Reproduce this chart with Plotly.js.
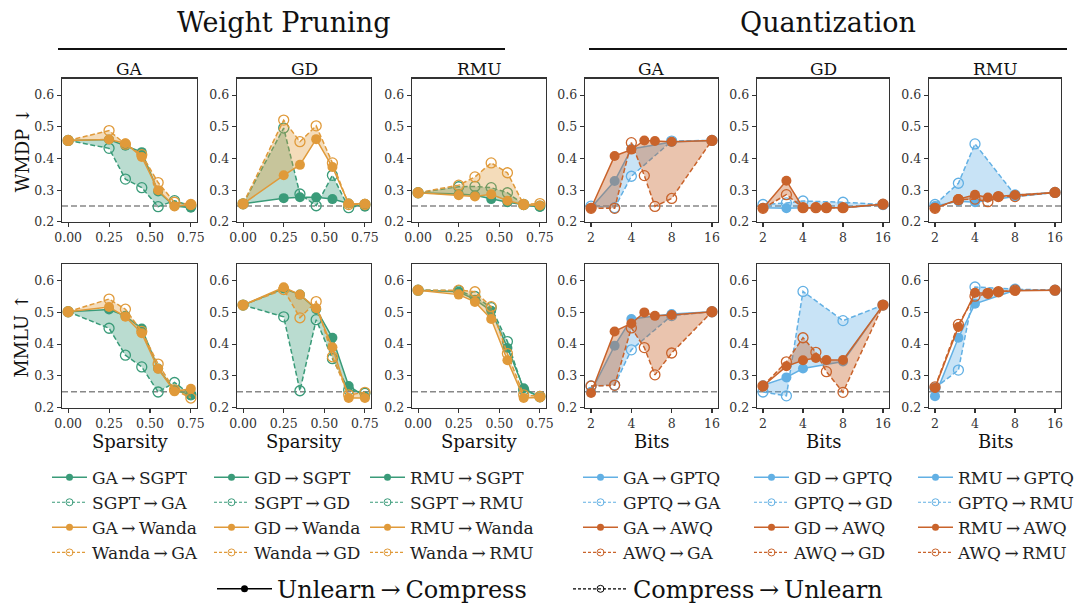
<!DOCTYPE html>
<html><head><meta charset="utf-8">
<script src="https://cdn.plot.ly/plotly-3.0.1.min.js"></script>
<style>html,body{margin:0;padding:0;background:#fff}#chart{width:1082px;height:612px}</style>
</head><body><div id="chart"></div>
<script>
// ---------- data ----------
const sparsity = [0, 0.25, 0.35, 0.45, 0.55, 0.65, 0.75];
const bitsGPTQ = [2, 3, 4, 8, 16];
const bitsAWQ = [2, 3, 4, 5, 6, 8, 16];
const chanceLevel = [0.25];
const yTicks = [0.2, 0.3, 0.4, 0.5, 0.6];
const yTickText = ['0.2', '0.3', '0.4', '0.5', '0.6'];
const sparsityTicks = [0, 0.25, 0.5, 0.75];
const sparsityTickText = ['0.00', '0.25', '0.50', '0.75'];
const bitTicks = [2, 4, 8, 16];
const bitTickText = ['2', '4', '8', '16'];
const unlearnMethods = ['GA', 'GD', 'RMU'];
const metricNames = ['WMDP ↓', 'MMLU ↑'];
const sectionTitles = ['Weight Pruning', 'Quantization'];

// WMDP - weight pruning
const wmdp_GA_SGPT = [0.457, 0.460, 0.440, 0.420, 0.296, 0.250, 0.245];
const wmdp_SGPT_GA = [0.457, 0.432, 0.335, 0.308, 0.248, 0.267, 0.250];
const wmdp_GA_Wanda = [0.457, 0.460, 0.448, 0.405, 0.300, 0.249, 0.255];
const wmdp_Wanda_GA = [0.457, 0.488, 0.445, 0.412, 0.324, 0.262, 0.255];
const wmdp_GD_SGPT = [0.257, 0.275, 0.278, 0.278, 0.272, 0.258, 0.248];
const wmdp_SGPT_GD = [0.257, 0.496, 0.288, 0.251, 0.347, 0.245, 0.255];
const wmdp_GD_Wanda = [0.257, 0.347, 0.380, 0.461, 0.373, 0.258, 0.257];
const wmdp_Wanda_GD = [0.257, 0.521, 0.453, 0.503, 0.386, 0.255, 0.255];
const wmdp_RMU_SGPT = [0.292, 0.288, 0.284, 0.272, 0.262, 0.254, 0.247];
const wmdp_SGPT_RMU = [0.292, 0.311, 0.312, 0.308, 0.292, 0.255, 0.250];
const wmdp_RMU_Wanda = [0.292, 0.284, 0.280, 0.287, 0.267, 0.254, 0.252];
const wmdp_Wanda_RMU = [0.292, 0.316, 0.342, 0.386, 0.355, 0.255, 0.258];
// MMLU - weight pruning
const mmlu_GA_SGPT = [0.502, 0.509, 0.489, 0.449, 0.323, 0.255, 0.240];
const mmlu_SGPT_GA = [0.502, 0.450, 0.365, 0.328, 0.249, 0.279, 0.240];
const mmlu_GA_Wanda = [0.502, 0.517, 0.486, 0.434, 0.322, 0.251, 0.259];
const mmlu_Wanda_GA = [0.502, 0.542, 0.510, 0.440, 0.337, 0.256, 0.230];
const mmlu_GD_SGPT = [0.523, 0.575, 0.556, 0.510, 0.420, 0.268, 0.235];
const mmlu_SGPT_GD = [0.523, 0.486, 0.253, 0.477, 0.354, 0.255, 0.245];
const mmlu_GD_Wanda = [0.523, 0.579, 0.556, 0.513, 0.390, 0.230, 0.230];
const mmlu_Wanda_GD = [0.523, 0.572, 0.483, 0.534, 0.360, 0.240, 0.248];
const mmlu_RMU_SGPT = [0.570, 0.565, 0.540, 0.505, 0.388, 0.261, 0.232];
const mmlu_SGPT_RMU = [0.570, 0.568, 0.550, 0.515, 0.408, 0.255, 0.235];
const mmlu_RMU_Wanda = [0.570, 0.556, 0.533, 0.479, 0.349, 0.230, 0.232];
const mmlu_Wanda_RMU = [0.570, 0.570, 0.565, 0.518, 0.370, 0.240, 0.235];
// WMDP - quantization
const wmdp_GA_GPTQ = [0.245, 0.329, 0.430, 0.452, 0.457];
const wmdp_GPTQ_GA = [0.250, 0.245, 0.344, 0.455, 0.457];
const wmdp_GA_AWQ = [0.243, 0.408, 0.428, 0.457, 0.455, 0.453, 0.457];
const wmdp_AWQ_GA = [0.243, 0.243, 0.450, 0.346, 0.249, 0.274, 0.457];
const wmdp_GD_GPTQ = [0.245, 0.243, 0.245, 0.245, 0.255];
const wmdp_GPTQ_GD = [0.255, 0.260, 0.266, 0.262, 0.255];
const wmdp_GD_AWQ = [0.243, 0.330, 0.245, 0.246, 0.245, 0.245, 0.256];
const wmdp_AWQ_GD = [0.243, 0.286, 0.245, 0.245, 0.245, 0.245, 0.256];
const wmdp_RMU_GPTQ = [0.250, 0.265, 0.262, 0.280, 0.293];
const wmdp_GPTQ_RMU = [0.255, 0.322, 0.446, 0.285, 0.293];
const wmdp_RMU_AWQ = [0.243, 0.272, 0.286, 0.277, 0.280, 0.285, 0.293];
const wmdp_AWQ_RMU = [0.243, 0.270, 0.272, 0.264, 0.280, 0.280, 0.293];
// MMLU - quantization
const mmlu_GA_GPTQ = [0.250, 0.395, 0.479, 0.495, 0.502];
const mmlu_GPTQ_GA = [0.268, 0.271, 0.382, 0.490, 0.502];
const mmlu_GA_AWQ = [0.246, 0.440, 0.465, 0.500, 0.489, 0.492, 0.502];
const mmlu_AWQ_GA = [0.268, 0.270, 0.451, 0.389, 0.303, 0.372, 0.502];
const mmlu_GD_GPTQ = [0.270, 0.295, 0.323, 0.345, 0.523];
const mmlu_GPTQ_GD = [0.249, 0.237, 0.566, 0.474, 0.523];
const mmlu_GD_AWQ = [0.268, 0.330, 0.349, 0.356, 0.350, 0.350, 0.523];
const mmlu_AWQ_GD = [0.268, 0.344, 0.420, 0.374, 0.313, 0.248, 0.523];
const mmlu_RMU_GPTQ = [0.236, 0.420, 0.527, 0.570, 0.570];
const mmlu_GPTQ_RMU = [0.262, 0.318, 0.580, 0.573, 0.570];
const mmlu_RMU_AWQ = [0.262, 0.454, 0.562, 0.560, 0.565, 0.568, 0.570];
const mmlu_AWQ_RMU = [0.265, 0.462, 0.551, 0.560, 0.565, 0.570, 0.570];

// ---------- styles ----------
const FONT = 'DejaVu Serif, Liberation Serif, serif';
const colors = {SGPT: '#3a9b79', Wanda: '#e09a3a', GPTQ: '#62b0e4', AWQ: '#c9632b'};
const fills = {SGPT: 'rgba(58,155,121,0.35)', Wanda: 'rgba(224,154,58,0.35)', GPTQ: 'rgba(98,176,228,0.35)', AWQ: 'rgba(201,99,43,0.38)'};
const W = 1082, H = 612;
const fx = p => p / W, fy = p => 1 - p / H;
const colPx = [[62, 197], [237, 371], [412, 546], [585, 718], [757, 889], [929, 1061]];
const rowPx = [[80, 226], [269, 415]];
const ARROW = '\u2009→\u2009';

const series = {
  wmdp: {
    GA: {SGPT: [wmdp_GA_SGPT, wmdp_SGPT_GA], Wanda: [wmdp_GA_Wanda, wmdp_Wanda_GA], GPTQ: [wmdp_GA_GPTQ, wmdp_GPTQ_GA], AWQ: [wmdp_GA_AWQ, wmdp_AWQ_GA]},
    GD: {SGPT: [wmdp_GD_SGPT, wmdp_SGPT_GD], Wanda: [wmdp_GD_Wanda, wmdp_Wanda_GD], GPTQ: [wmdp_GD_GPTQ, wmdp_GPTQ_GD], AWQ: [wmdp_GD_AWQ, wmdp_AWQ_GD]},
    RMU: {SGPT: [wmdp_RMU_SGPT, wmdp_SGPT_RMU], Wanda: [wmdp_RMU_Wanda, wmdp_Wanda_RMU], GPTQ: [wmdp_RMU_GPTQ, wmdp_GPTQ_RMU], AWQ: [wmdp_RMU_AWQ, wmdp_AWQ_RMU]}
  },
  mmlu: {
    GA: {SGPT: [mmlu_GA_SGPT, mmlu_SGPT_GA], Wanda: [mmlu_GA_Wanda, mmlu_Wanda_GA], GPTQ: [mmlu_GA_GPTQ, mmlu_GPTQ_GA], AWQ: [mmlu_GA_AWQ, mmlu_AWQ_GA]},
    GD: {SGPT: [mmlu_GD_SGPT, mmlu_SGPT_GD], Wanda: [mmlu_GD_Wanda, mmlu_Wanda_GD], GPTQ: [mmlu_GD_GPTQ, mmlu_GPTQ_GD], AWQ: [mmlu_GD_AWQ, mmlu_AWQ_GD]},
    RMU: {SGPT: [mmlu_RMU_SGPT, mmlu_SGPT_RMU], Wanda: [mmlu_RMU_Wanda, mmlu_Wanda_RMU], GPTQ: [mmlu_RMU_GPTQ, mmlu_GPTQ_RMU], AWQ: [mmlu_RMU_AWQ, mmlu_AWQ_RMU]}
  }
};
const xFor = {SGPT: sparsity, Wanda: sparsity, GPTQ: bitsGPTQ, AWQ: bitsAWQ};

const traces = [];
const layout = {
  width: W, height: H, margin: {l: 0, r: 0, t: 0, b: 0},
  paper_bgcolor: '#fff', plot_bgcolor: '#fff', showlegend: true,
  font: {family: FONT, color: '#222'},
  annotations: [], shapes: []
};

const metrics = ['wmdp', 'mmlu'];
for (let r = 0; r < 2; r++) {
  for (let c = 0; c < 6; c++) {
    const idx = r * 6 + c + 1;
    const xa = 'x' + (idx === 1 ? '' : idx), ya = 'y' + (idx === 1 ? '' : idx);
    const quant = c >= 3;
    const method = unlearnMethods[c % 3];
    const comps = quant ? ['GPTQ', 'AWQ'] : ['SGPT', 'Wanda'];
    comps.forEach(comp => {
      const [uc, cu] = series[metrics[r]][method][comp];
      const x = xFor[comp];
      traces.push({x: x, y: cu, xaxis: xa, yaxis: ya, type: 'scatter', mode: 'lines+markers', showlegend: false,
        line: {color: colors[comp], width: 1.5, dash: '5px,2.5px'},
        marker: {symbol: 'circle-open', size: 10, color: colors[comp], line: {width: 1.3, color: colors[comp]}},
        hoverinfo: 'skip'});
      traces.push({x: x, y: uc, xaxis: xa, yaxis: ya, type: 'scatter', mode: 'lines+markers', showlegend: false,
        fill: 'tonexty', fillcolor: fills[comp],
        line: {color: colors[comp], width: 1.5},
        marker: {symbol: 'circle', size: 10, color: colors[comp]},
        hoverinfo: 'skip'});
    });
    const axBase = {showline: true, mirror: true, linecolor: '#333', linewidth: 1.3, ticks: 'outside', ticklen: 4,
      tickwidth: 1.1, tickcolor: '#333', showgrid: false, zeroline: false,
      tickfont: {family: FONT, size: 12.5, color: '#333'}};
    layout['xaxis' + (idx === 1 ? '' : idx)] = Object.assign({}, axBase, {
      domain: [fx(colPx[c][0]), fx(colPx[c][1])], anchor: ya,
      type: quant ? 'log' : 'linear',
      range: quant ? [Math.log10(2) - 0.05 * Math.log10(8), Math.log10(16) + 0.05 * Math.log10(8)] : [-0.0375, 0.7875],
      tickmode: 'array', tickvals: quant ? bitTicks : sparsityTicks, ticktext: quant ? bitTickText : sparsityTickText
    });
    layout['yaxis' + (idx === 1 ? '' : idx)] = Object.assign({}, axBase, {
      domain: [fy(rowPx[r][1]), fy(rowPx[r][0])], anchor: xa, range: [0.2, 0.652],
      tickmode: 'array', tickvals: yTicks, ticktext: yTickText
    });
    layout.shapes.push({type: 'line', xref: xa + ' domain', yref: ya, x0: 0, x1: 1, y0: chanceLevel[0], y1: chanceLevel[0],
      line: {color: '#888', width: 1.5, dash: '6px,3px'}, layer: 'below'});
    if (r === 0) {
      layout.annotations.push({text: method, xref: 'paper', yref: 'paper', x: fx((colPx[c][0] + colPx[c][1]) / 2), y: fy(70),
        xanchor: 'center', yanchor: 'middle', showarrow: false, font: {family: FONT, size: 17, color: '#111'}});
    } else {
      layout.annotations.push({text: quant ? 'Bits' : 'Sparsity', xref: 'paper', yref: 'paper', x: fx((colPx[c][0] + colPx[c][1]) / 2), y: fy(437),
        xanchor: 'center', yanchor: 'top', showarrow: false, font: {family: FONT, size: 18, color: '#111'}});
    }
  }
}
// row titles
metricNames.forEach((t, r) => {
  layout.annotations.push({text: t, xref: 'paper', yref: 'paper', x: fx(22), y: fy((rowPx[r][0] + rowPx[r][1]) / 2),
    xanchor: 'center', yanchor: 'middle', textangle: -90, showarrow: false, font: {family: FONT, size: 18, color: '#111'}});
});
// section titles + rules
[[283, 58, 505], [828, 589, 1067]].forEach((s, i) => {
  layout.annotations.push({text: sectionTitles[i], xref: 'paper', yref: 'paper', x: fx(s[0]), y: fy(23),
    xanchor: 'center', yanchor: 'middle', showarrow: false, font: {family: FONT, size: 27, color: '#111'}});
  layout.shapes.push({type: 'line', xref: 'paper', yref: 'paper', x0: fx(s[1]), x1: fx(s[2]), y0: fy(50), y1: fy(50),
    line: {color: '#111', width: 2}});
});

// ---------- legends ----------
const legendX = [47, 209, 365, 578, 749, 913];
for (let c = 0; c < 6; c++) {
  const lname = 'legend' + (c === 0 ? '' : c + 1);
  const quant = c >= 3;
  const method = unlearnMethods[c % 3];
  const comps = quant ? ['GPTQ', 'AWQ'] : ['SGPT', 'Wanda'];
  let rank = 1;
  comps.forEach(comp => {
    traces.push({x: [null], y: [null], type: 'scatter', mode: 'lines+markers', legend: lname, legendrank: rank++,
      name: method + ARROW + comp, line: {color: colors[comp], width: 1.5}, marker: {symbol: 'circle', size: 7, color: colors[comp]}});
    traces.push({x: [null], y: [null], type: 'scatter', mode: 'lines+markers', legend: lname, legendrank: rank++,
      name: comp + ARROW + method, line: {color: colors[comp], width: 1.2, dash: '3px,2px'},
      marker: {symbol: 'circle-open', size: 7, color: colors[comp], line: {width: 1, color: colors[comp]}}});
  });
  layout[lname] = {x: fx(legendX[c]), y: fy(468), xanchor: 'left', yanchor: 'top', bgcolor: 'rgba(0,0,0,0)',
    font: {family: FONT, size: 17, color: '#222'}, traceorder: 'normal', tracegroupgap: 0, itemclick: false, itemwidth: 35};
}
traces.push({x: [null], y: [null], type: 'scatter', mode: 'lines+markers', legend: 'legend7', legendrank: 1,
  name: 'Unlearn' + ARROW + 'Compress', line: {color: '#000', width: 1.5}, marker: {symbol: 'circle', size: 7, color: '#000'}});
traces.push({x: [null], y: [null], type: 'scatter', mode: 'lines+markers', legend: 'legend7', legendrank: 2,
  name: 'Compress' + ARROW + 'Unlearn', line: {color: '#000', width: 1.2, dash: '3px,2px'},
  marker: {symbol: 'circle-open', size: 7, color: '#000', line: {width: 1, color: '#000'}}});
layout.legend7 = {x: fx(212), y: fy(600), xanchor: 'left', yanchor: 'middle', orientation: 'h', bgcolor: 'rgba(0,0,0,0)',
  font: {family: FONT, size: 24, color: '#111'}, entrywidth: 286, entrywidthmode: 'pixels', itemclick: false, itemwidth: 55};

Plotly.newPlot('chart', traces, layout, {staticPlot: true, displayModeBar: false});
</script></body></html>
